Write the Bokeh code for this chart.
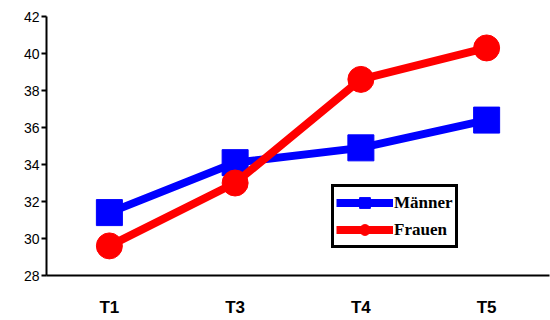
from bokeh.plotting import figure
from bokeh.models import FactorRange, Range1d, FixedTicker, Legend, LegendItem
from bokeh.embed import file_html
from bokeh.resources import INLINE

# Measurement points and mean values per group
times = ["T1", "T3", "T4", "T5"]
maenner = [31.4, 34.1, 34.9, 36.4]
frauen = [29.6, 33.0, 38.6, 40.3]
y_ticks = [28, 30, 32, 34, 36, 38, 40, 42]

p = figure(
    width=550, height=320,
    x_range=FactorRange(*times, range_padding=0),
    y_range=Range1d(28, 42),
    output_backend="svg", toolbar_location=None,
    min_border_left=46, min_border_right=1,
    min_border_top=16, min_border_bottom=45,
)
p.outline_line_color = None
p.xgrid.visible = False
p.ygrid.visible = False
p.background_fill_color = "white"
p.border_fill_color = "white"

# y axis
p.yaxis.ticker = FixedTicker(ticks=y_ticks)
p.yaxis.axis_line_width = 2
p.yaxis.axis_line_color = "black"
p.yaxis.major_tick_line_width = 2
p.yaxis.major_tick_in = 0
p.yaxis.major_tick_out = 5
p.yaxis.minor_tick_line_color = None
p.yaxis.major_label_text_font = "Liberation Sans"
p.yaxis.major_label_text_font_size = "14px"
p.yaxis.major_label_text_color = "black"
p.yaxis.major_label_standoff = 2

# x axis
p.xaxis.axis_line_width = 2
p.xaxis.axis_line_color = "black"
p.xaxis.major_tick_line_color = None
p.xaxis.major_tick_in = 0
p.xaxis.major_tick_out = 0
p.xaxis.minor_tick_line_color = None
p.xaxis.major_label_text_font = "Liberation Sans"
p.xaxis.major_label_text_font_style = "bold"
p.xaxis.major_label_text_font_size = "17px"
p.xaxis.major_label_text_color = "black"
p.xaxis.major_label_standoff = 22

# series
m_line = p.line(times, maenner, line_color="blue", line_width=8)
m_pts = p.scatter(times, maenner, marker="square", size=26,
                  fill_color="blue", line_color="blue")
f_line = p.line(times, frauen, line_color="red", line_width=8)
f_pts = p.scatter(times, frauen, marker="circle", size=26,
                  fill_color="red", line_color="red")

legend = Legend(
    items=[
        LegendItem(label="Männer", renderers=[m_line, m_pts]),
        LegendItem(label="Frauen", renderers=[f_line, f_pts]),
    ],
    location=(285, 27),
    border_line_color="black",
    border_line_alpha=1.0,
    border_line_width=3,
    background_fill_color="white",
    background_fill_alpha=1,
    label_text_font="Liberation Serif",
    label_text_font_style="bold",
    label_text_font_size="17px",
    label_text_color="black",
    glyph_width=57,
    glyph_height=27,
    label_height=27,
    label_standoff=1,
    spacing=0,
    padding=2,
    margin=0,
)
p.add_layout(legend, "center")

open("out.html", "w").write(file_html(p, INLINE))
